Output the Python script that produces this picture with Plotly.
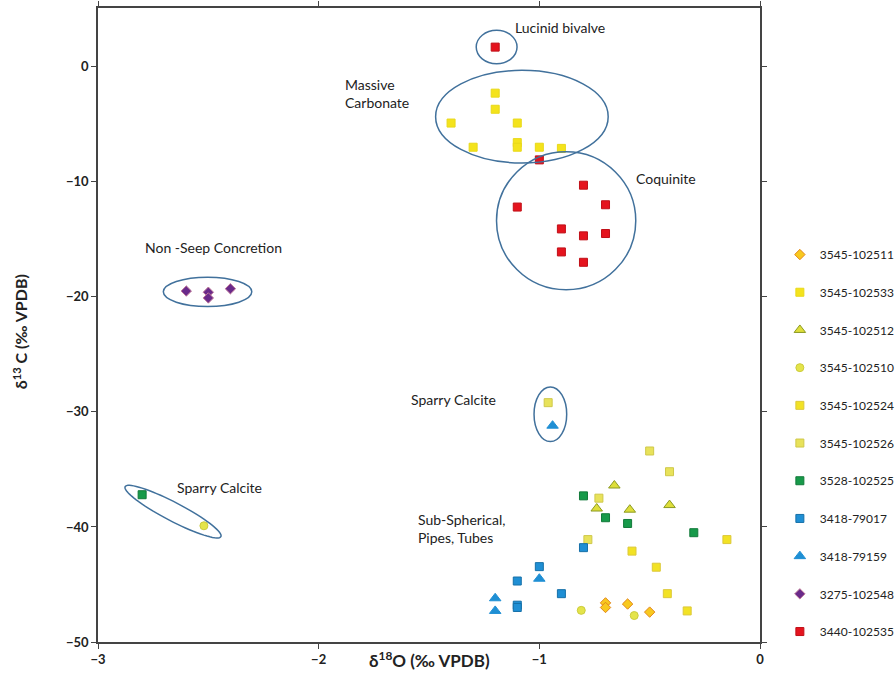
import math
import plotly.graph_objects as go

# Sample series: δ18O (x) and δ13C (y), ‰ VPDB
s511_x = [-0.70, -0.70, -0.60, -0.50]
s511_y = [-46.6, -47.0, -46.7, -47.4]

s533_x = [-1.20, -1.20, -1.40, -1.10, -1.30, -1.10, -1.10, -1.00, -0.90]
s533_y = [-2.3, -3.7, -4.9, -4.9, -7.0, -6.6, -7.0, -7.0, -7.1]

s512_x = [-0.66, -0.74, -0.59, -0.41]
s512_y = [-36.4, -38.4, -38.5, -38.1]

s510_x = [-2.52, -0.81, -0.57]
s510_y = [-39.9, -47.25, -47.7]

s524_x = [-0.15, -0.58, -0.47, -0.42, -0.33]
s524_y = [-41.1, -42.1, -43.5, -45.8, -47.3]

s526_x = [-0.50, -0.41, -0.73, -0.78, -0.96]
s526_y = [-33.4, -35.2, -37.5, -41.1, -29.2]

s525_x = [-2.80, -0.80, -0.70, -0.60, -0.30]
s525_y = [-37.2, -37.3, -39.2, -39.7, -40.5]

s79017_x = [-0.80, -1.00, -1.10, -0.90, -1.10, -1.10]
s79017_y = [-41.8, -43.45, -44.7, -45.8, -46.8, -47.0]

s79159_x = [-0.94, -1.00, -1.20, -1.20]
s79159_y = [-31.2, -44.5, -46.2, -47.3]

s548_x = [-2.60, -2.50, -2.50, -2.40]
s548_y = [-19.5, -19.6, -20.1, -19.3]

s535_x = [-1.20, -1.00, -0.80, -1.10, -0.70, -0.90, -0.80, -0.70, -0.90, -0.80]
s535_y = [1.7, -8.1, -10.3, -12.2, -12.0, -14.1, -14.7, -14.5, -16.1, -17.0]

series = [
    ("3545-102511", s511_x, s511_y, "diamond", "#f8c91e", "#e2861c", 8),
    ("3545-102533", s533_x, s533_y, "square", "#f4e31c", "#e8d81a", 8),
    ("3545-102512", s512_x, s512_y, "triangle-up", "#dede3a", "#8c9a22", 10),
    ("3545-102510", s510_x, s510_y, "circle", "#e4e44a", "#cccc3c", 8),
    ("3545-102524", s524_x, s524_y, "square", "#f2e224", "#dcc83a", 8),
    ("3545-102526", s526_x, s526_y, "square", "#e8e25a", "#cfc84a", 8),
    ("3528-102525", s525_x, s525_y, "square", "#179a4a", "#127a3a", 8),
    ("3418-79017", s79017_x, s79017_y, "square", "#1f8fd4", "#1670a8", 8),
    ("3418-79159", s79159_x, s79159_y, "triangle-up", "#1f8fd4", "#1f8fd4", 10),
    ("3275-102548", s548_x, s548_y, "diamond", "#6a2a8a", "#c07a9a", 8),
    ("3440-102535", s535_x, s535_y, "square", "#e5141e", "#c01018", 8),
]

# Group outlines: (x0, x1, y0, y1) in data units
ellipses = [
    (-1.286, -1.101, 3.16, 0.26),     # Lucinid bivalve
    (-1.470, -0.688, -0.32, -8.37),   # Massive Carbonate
    (-1.194, -0.563, -7.39, -19.39),  # Coquinite
    (-2.704, -2.303, -18.29, -20.84), # Non-seep concretion
    (-1.024, -0.876, -27.83, -32.58), # Sparry calcite (right)
]

# Tilted outline for the left sparry calcite pair: centre, half-axis vectors
tilt_center = (-2.66, -38.67)
tilt_major = (0.217, -2.17)
tilt_minor = (-0.019, -0.72)

labels = [
    ("Lucinid bivalve", -1.12, 4.3),
    ("Massive<br>Carbonate", -1.89, -0.6),
    ("Coquinite", -0.57, -8.8),
    ("Non -Seep Concretion", -2.795, -14.8),
    ("Sparry Calcite", -1.59, -28.0),
    ("Sparry Calcite", -2.65, -35.7),
    ("Sub-Spherical,<br>Pipes, Tubes", -1.56, -38.4),
]

FONT = "Lato, 'Open Sans', sans-serif"

fig = go.Figure()
for i, (name, xs, ys, sym, fill, edge, size) in enumerate(series):
    fig.add_trace(go.Scatter(
        x=xs, y=ys, mode="markers", name=name, legendgroup=f"g{i}",
        marker=dict(symbol=sym, size=size, color=fill,
                    line=dict(color=edge, width=1)),
    ))

shapes = []
for x0, x1, y0, y1 in ellipses:
    shapes.append(dict(type="circle", xref="x", yref="y",
                       x0=x0, x1=x1, y0=y0, y1=y1,
                       line=dict(color="#41719c", width=1.5)))

pts = []
for k in range(73):
    t = 2 * math.pi * k / 72
    px = tilt_center[0] + tilt_major[0] * math.cos(t) + tilt_minor[0] * math.sin(t)
    py = tilt_center[1] + tilt_major[1] * math.cos(t) + tilt_minor[1] * math.sin(t)
    pts.append(f"{px:.4f},{py:.4f}")
shapes.append(dict(type="path", xref="x", yref="y",
                   path="M" + " L".join(pts) + " Z",
                   line=dict(color="#41719c", width=1.5)))

annotations = []
for text, x, y in labels:
    annotations.append(dict(text=text, x=x, y=y, xref="x", yref="y",
                            showarrow=False, xanchor="left", yanchor="top",
                            align="left",
                            font=dict(family=FONT, size=14, color="#222")))

annotations.append(dict(text="δ<sup>18</sup>O (‰ VPDB)", x=0.5, y=-0.028,
                        xref="paper", yref="paper", showarrow=False,
                        xanchor="center", yanchor="middle",
                        font=dict(family=FONT, size=17, color="#222", weight="bold")))
annotations.append(dict(text="δ<sup>13</sup> C (‰ VPDB)", x=-0.118, y=0.49,
                        xref="paper", yref="paper", showarrow=False, textangle=-90,
                        xanchor="center", yanchor="middle",
                        font=dict(family=FONT, size=16, color="#222", weight="bold")))

axis_common = dict(showgrid=False, zeroline=False, showline=True, mirror="ticks",
                   linecolor="#444", linewidth=1.5, ticks="outside", ticklen=5,
                   tickcolor="#444", automargin=False,
                   tickfont=dict(family=FONT, size=13, color="#222", weight="bold"))

fig.update_layout(
    width=895, height=685,
    margin=dict(l=98, r=135, t=8, b=43, autoexpand=False),
    paper_bgcolor="white", plot_bgcolor="white",
    xaxis=dict(range=[-3, 0], dtick=1, **axis_common),
    yaxis=dict(range=[-50, 5.1], dtick=10, **axis_common),
    shapes=shapes, annotations=annotations,
    legend=dict(x=1.03, y=0.634, xanchor="left", yanchor="top",
                traceorder="grouped", tracegroupgap=18.7,
                font=dict(family=FONT, size=12, color="#222"),
                itemwidth=30, bgcolor="rgba(0,0,0,0)"),
    showlegend=True,
)

fig.write_html("out.html")
